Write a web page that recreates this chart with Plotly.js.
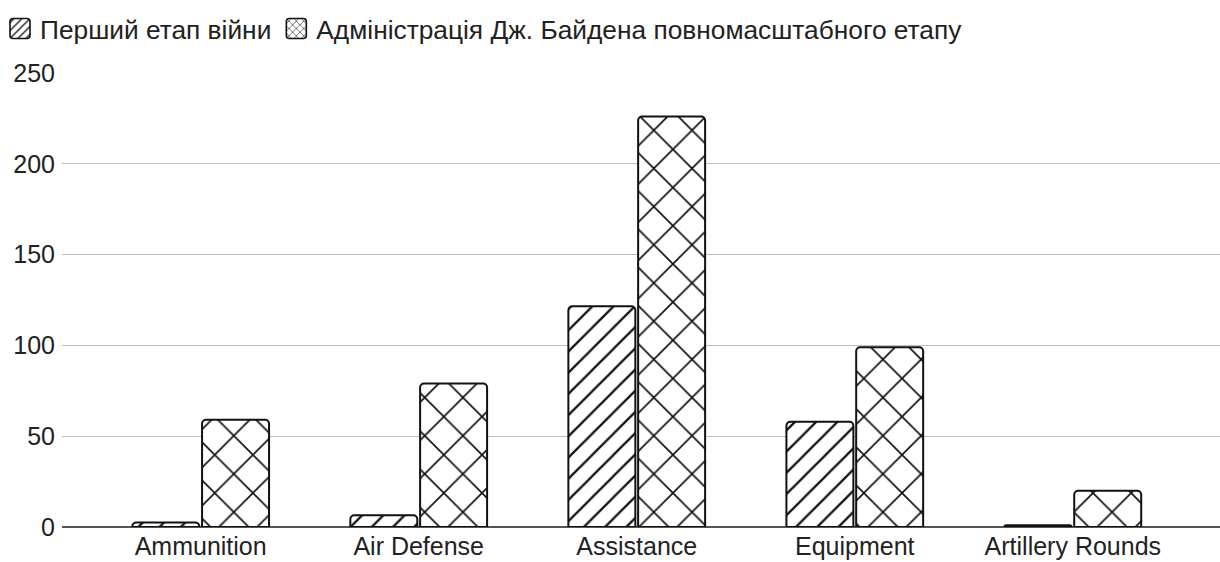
<!DOCTYPE html>
<html>
<head>
<meta charset="utf-8">
<script src="https://cdn.plot.ly/plotly-3.0.1.min.js"></script>
<style>html,body{margin:0;padding:0;background:#fff;}#chart{width:1220px;height:562px;}</style>
</head>
<body>
<div id="chart"></div>
<script>
const categories = ["Ammunition", "Air Defense", "Assistance", "Equipment", "Artillery Rounds"];
const seriesNames = ["Перший етап війни", "Адміністрація Дж. Байдена повномасштабного етапу"];
const firstStage = [2.5, 6.5, 121.5, 58, 1];
const bidenStage = [59, 79, 226, 99, 20];
const yTicks = [0, 50, 100, 150, 200, 250];

const lineStyle = {color: "#111", width: 2};
const patterns = [
  {shape: "/", fgcolor: "#111", bgcolor: "#fff", size: 15, solidity: 0.15},
  {shape: "x", fgcolor: "#111", bgcolor: "#fff", size: 27, solidity: 0.12}
];
const legendPatterns = [
  {shape: "/", fgcolor: "#111", bgcolor: "#fff", size: 7, solidity: 0.22},
  {shape: "x", fgcolor: "#111", bgcolor: "#fff", size: 6.5, solidity: 0.2}
];
const seriesValues = [firstStage, bidenStage];

const traces = [];
seriesValues.forEach(function (vals, i) {
  traces.push({
    type: "bar", x: categories, y: vals, name: seriesNames[i], showlegend: false,
    hoverinfo: "y+name",
    marker: {color: "#fff", line: lineStyle, cornerradius: 4, pattern: patterns[i]}
  });
});
// legend-only entries (separate hidden subplot so the grouping is unaffected)
seriesValues.forEach(function (vals, i) {
  traces.push({
    type: "bar", x: [categories[0]], y: [null], name: seriesNames[i], showlegend: true,
    xaxis: "x2", yaxis: "y2", hoverinfo: "skip",
    marker: {color: "#fff", line: {color: "#111", width: 1.6}, pattern: legendPatterns[i]}
  });
});

const layout = {
  width: 1220, height: 562,
  margin: {l: 62, r: 0, t: 73, b: 35},
  paper_bgcolor: "#fff", plot_bgcolor: "#fff",
  font: {family: "'Liberation Sans', Arial, sans-serif", size: 25, color: "#222"},
  barmode: "group", bargap: 0.36, bargroupgap: 0.04,
  showlegend: true,
  legend: {orientation: "h", x: -0.0538, xanchor: "left", y: 1.15, yanchor: "top",
    font: {size: 26.3, color: "#222"}, itemwidth: 30, traceorder: "normal"},
  xaxis: {type: "category", range: [-0.636, 4.675], showgrid: false, ticks: "", showline: false,
    ticklabelstandoff: 2, tickfont: {size: 25, color: "#222"}},
  yaxis: {range: [0, 250], tickvals: yTicks, showgrid: true, gridcolor: "#bdbdbd", gridwidth: 1,
    zeroline: true, zerolinecolor: "#555", zerolinewidth: 2, ticks: "", ticklabelstandoff: 6,
    tickfont: {size: 25, color: "#222"}},
  xaxis2: {overlaying: "x", visible: false, type: "category"},
  yaxis2: {overlaying: "y", visible: false, range: [0, 1]}
};
Plotly.newPlot("chart", traces, layout, {displayModeBar: false, staticPlot: true}).then(function (gd) {
  gd.querySelectorAll(".legend .legendpoints path").forEach(function (p) {
    p.setAttribute("d", "M-7,-10H7A3,3 0 0 1 10,-7V7A3,3 0 0 1 7,10H-7A3,3 0 0 1 -10,7V-7A3,3 0 0 1 -7,-10Z");
  });
});
</script>
</body>
</html>
